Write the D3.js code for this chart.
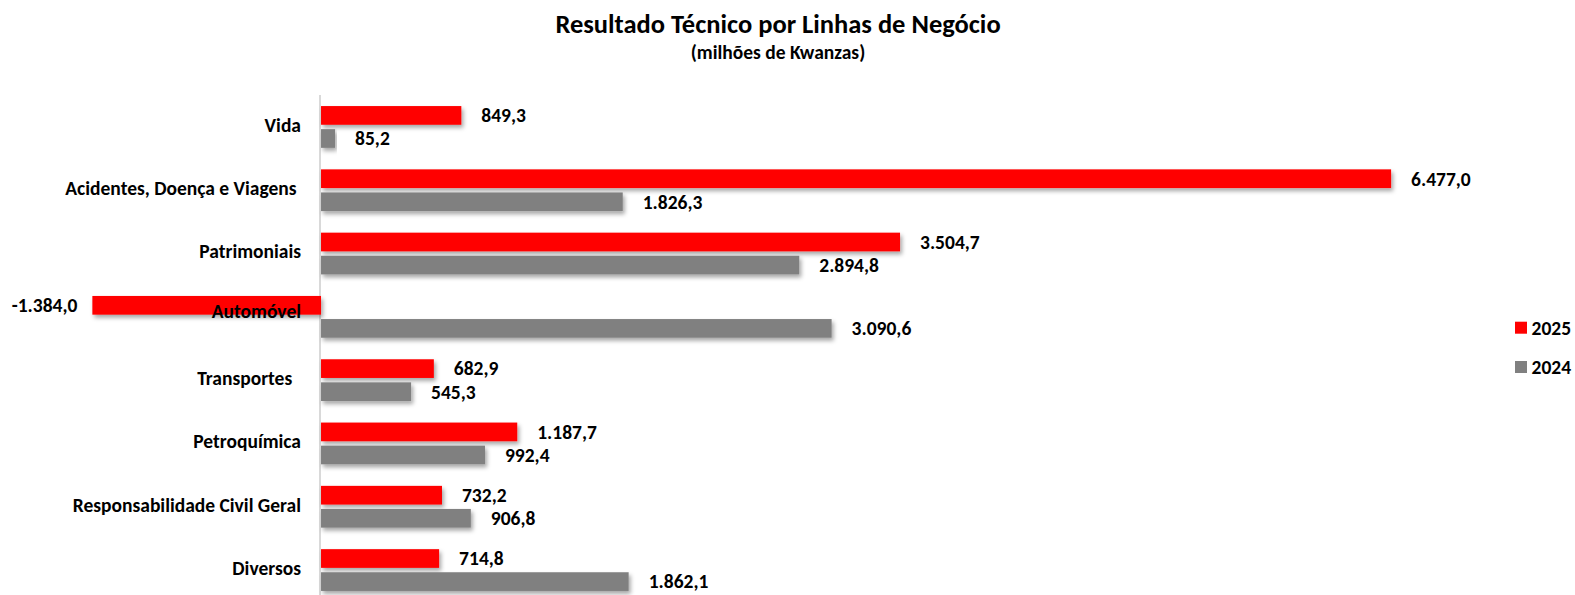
<!DOCTYPE html>
<html><head><meta charset="utf-8">
<script src="https://cdn.jsdelivr.net/npm/d3@7"></script>
<style>
html,body{margin:0;padding:0;background:#fff;}
svg text{font-family:Carlito,"Liberation Sans Narrow","Liberation Sans",Arial,sans-serif;font-weight:bold;fill:#000;white-space:pre;}
</style></head>
<body><svg id="chart" width="1575" height="595"></svg>
<script>
const categories = ["Vida","Acidentes, Doença e Viagens ","Patrimoniais","Automóvel","Transportes  ","Petroquímica","Responsabilidade Civil Geral","Diversos"];
const seriesNames = ["2025","2024"];
const values2025 = [849.3, 6477.0, 3504.7, -1384.0, 682.9, 1187.7, 732.2, 714.8];
const values2024 = [85.2, 1826.3, 2894.8, 3090.6, 545.3, 992.4, 906.8, 1862.1];
const seriesColors = ["#ff0000","#808080"];
const titleText = "Resultado Técnico por Linhas de Negócio";
const subtitleText = "(milhões de Kwanzas)";

const svg = d3.select("#chart");
const defs = svg.append("defs");
const f = defs.append("filter").attr("id","shadow").attr("x","-5%").attr("y","-30%").attr("width","115%").attr("height","180%");
f.append("feDropShadow").attr("dx",2).attr("dy",3).attr("stdDeviation",2).attr("flood-color","#000").attr("flood-opacity",0.35);

const loc = d3.formatLocale({decimal:",", thousands:".", grouping:[3], currency:["",""], minus:"-"});
const fmt = loc.format(",.1f");

const x = d3.scaleLinear().domain([-1500, 6500]).range([73.2, 1394.9]);
const y = d3.scaleBand().domain(categories).range([95.3, 601.7]).paddingInner(0.34).paddingOuter(0.17);
const ys = d3.scaleBand().domain(seriesNames).range([0, y.bandwidth()]).paddingInner(0.19);

const data = categories.map((c,i)=>({cat:c, vals:[{s:"2025",v:values2025[i],col:seriesColors[0]},{s:"2024",v:values2024[i],col:seriesColors[1]}]}));

// axis line
svg.append("line").attr("x1",x(0)-1).attr("x2",x(0)-1).attr("y1",95).attr("y2",595)
  .attr("stroke","#d9d9d9").attr("stroke-width",2);

const g = svg.append("g").selectAll("g").data(data).join("g")
  .attr("transform",d=>`translate(0,${y(d.cat)})`);

g.selectAll("rect").data(d=>d.vals).join("rect")
  .attr("x",d=>x(Math.min(0,d.v)))
  .attr("width",d=>Math.abs(x(d.v)-x(0)))
  .attr("y",d=>ys(d.s))
  .attr("height",ys.bandwidth())
  .attr("fill",d=>d.col)
  .attr("filter","url(#shadow)");

g.selectAll("text.val").data(d=>d.vals).join("text").attr("class","val")
  .attr("x",d=>d.v>=0 ? x(d.v)+20 : x(d.v)-15)
  .attr("y",d=>ys(d.s)+ys.bandwidth()/2)
  .attr("dy","0.35em")
  .attr("text-anchor",d=>d.v>=0?"start":"end")
  .style("font-size","19.5px")
  .text(d=>fmt(d.v));

// category labels
svg.append("g").selectAll("text").data(categories).join("text")
  .attr("x",301)
  .attr("y",d=>y(d)+y.bandwidth()/2 - (d==="Automóvel"?6:2))
  .attr("dy","0.35em")
  .attr("text-anchor","end")
  .style("font-size","19.5px")
  .text(d=>d);

// title
svg.append("text").attr("x",778).attr("y",24).attr("dy","0.35em").attr("text-anchor","middle")
  .style("font-size","26.5px").text(titleText);
svg.append("text").attr("x",778).attr("y",52).attr("dy","0.35em").attr("text-anchor","middle")
  .style("font-size","19.5px").text(subtitleText);

// legend
const lg = svg.append("g").selectAll("g").data(seriesNames).join("g")
  .attr("transform",(d,i)=>`translate(1515,${321.7+i*39.3})`);
lg.append("rect").attr("width",12).attr("height",12).attr("fill",(d,i)=>seriesColors[i]);
lg.append("text").attr("x",16.5).attr("y",6).attr("dy","0.35em").style("font-size","19.5px").text(d=>d);
</script></body></html>
